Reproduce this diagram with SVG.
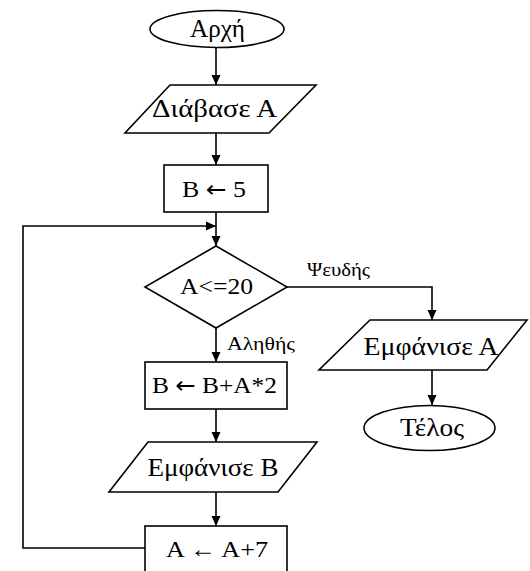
<svg xmlns="http://www.w3.org/2000/svg" width="530" height="571" viewBox="0 0 530 571">
<style>
.s{fill:#fff;stroke:#000;stroke-width:1.6}
.t{font-family:"Liberation Serif","DejaVu Serif",serif;font-size:24px;fill:#000;text-anchor:middle}
.g{font-size:25px}
.l{font-family:"Liberation Serif","DejaVu Serif",serif;font-size:18px;fill:#000}
.ar{font-family:"DejaVu Sans",sans-serif;font-size:23px}
.c{fill:none;stroke:#000;stroke-width:1.6}
</style>
<defs>
<marker id="a" markerWidth="10" markerHeight="10" refX="10" refY="5" orient="auto" markerUnits="userSpaceOnUse">
<path d="M0,0.5 L10,5 L0,9.5 Z" fill="#000"/>
</marker>
</defs>
<rect width="530" height="571" fill="#fff"/>
<g id="connectors">
<path class="c" d="M216,48 V85" marker-end="url(#a)"/>
<path class="c" d="M216,133 V165" marker-end="url(#a)"/>
<path class="c" d="M216,212 V246" marker-end="url(#a)"/>
<path class="c" d="M145,548 H23 V226 H216" marker-end="url(#a)"/>
<path class="c" d="M287,287 H432 V320" marker-end="url(#a)"/>
<path class="c" d="M432,370 V405" marker-end="url(#a)"/>
<path class="c" d="M216,328 V362" marker-end="url(#a)"/>
<path class="c" d="M216,409 V442" marker-end="url(#a)"/>
<path class="c" d="M216,492 V526" marker-end="url(#a)"/>
<text class="l" x="307" y="276" textLength="63" lengthAdjust="spacingAndGlyphs">Ψευδής</text>
<text class="l" x="227" y="350" textLength="68" lengthAdjust="spacingAndGlyphs">Αληθής</text>
</g>
<g id="start">
<ellipse class="s" cx="217" cy="29" rx="67" ry="18.5"/>
<text class="t g" x="217.5" y="37" textLength="55" lengthAdjust="spacingAndGlyphs">Αρχή</text>
</g>
<g id="read">
<polygon class="s" points="170,85 316,85 269,133 125,133"/>
<text class="t g" x="214.5" y="117" textLength="125" lengthAdjust="spacingAndGlyphs">Διάβασε Α</text>
</g>
<g id="init">
<rect class="s" x="164" y="165" width="104" height="47"/>
<text class="t" x="214" y="197" textLength="64" lengthAdjust="spacingAndGlyphs">Β <tspan class="ar">←</tspan> 5</text>
</g>
<g id="cond">
<polygon class="s" points="216,246 287,287 216,328 145,287"/>
<text class="t" x="216.5" y="294" textLength="73" lengthAdjust="spacingAndGlyphs">Α&lt;=20</text>
</g>
<g id="showA">
<polygon class="s" points="370,320 527,320 487,370 319,370"/>
<text class="t g" x="431" y="355" textLength="135" lengthAdjust="spacingAndGlyphs">Εμφάνισε Α</text>
</g>
<g id="end">
<ellipse class="s" cx="429.5" cy="428" rx="65.5" ry="22.5"/>
<text class="t g" x="432" y="436" textLength="64" lengthAdjust="spacingAndGlyphs">Τέλος</text>
</g>
<g id="calcB">
<rect class="s" x="145" y="362" width="142" height="47"/>
<text class="t" x="214.5" y="393" textLength="125" lengthAdjust="spacingAndGlyphs">Β <tspan class="ar">←</tspan> Β+Α*2</text>
</g>
<g id="showB">
<polygon class="s" points="148,442 317,442 278,492 109,492"/>
<text class="t g" x="213" y="476" textLength="131" lengthAdjust="spacingAndGlyphs">Εμφάνισε Β</text>
</g>
<g id="incA">
<rect class="s" x="145" y="526" width="142" height="50"/>
<text class="t" x="217" y="557" textLength="102" lengthAdjust="spacingAndGlyphs">Α ← Α+7</text>
</g>
</svg>
